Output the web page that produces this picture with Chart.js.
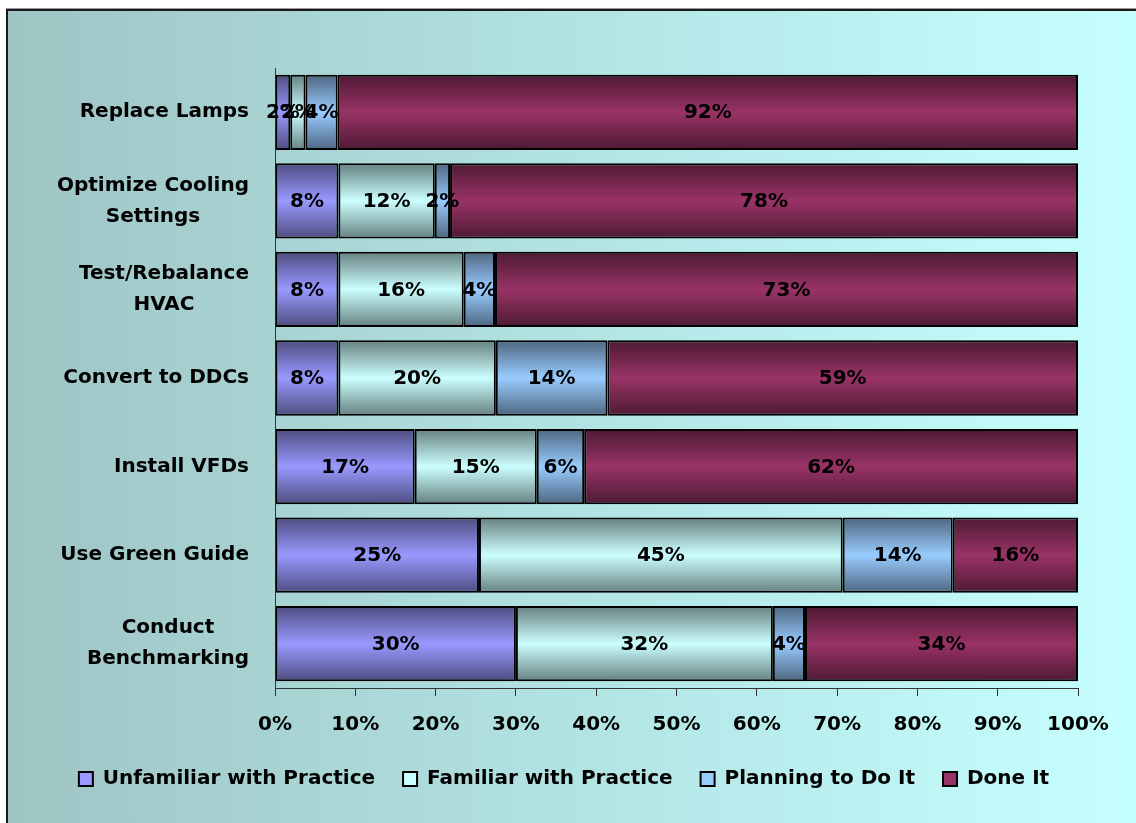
<!DOCTYPE html>
<html>
<head>
<meta charset="utf-8">
<title>Adoption of Energy Practices</title>
<script src="https://cdn.jsdelivr.net/npm/chart.js@4.4.1/dist/chart.umd.min.js"></script>
<style>
  html, body { margin: 0; padding: 0; background: #ffffff; }
  #wrap { width: 1136px; height: 823px; }
</style>
</head>
<body>
<div id="wrap"><canvas id="chart" width="1136" height="823"></canvas></div>
<script>
// Practices, top to bottom (multi-line names are split into lines)
const categories = [
  ['Replace Lamps'],
  ['Optimize Cooling', 'Settings'],
  ['Test/Rebalance', 'HVAC'],
  ['Convert to DDCs'],
  ['Install VFDs'],
  ['Use Green Guide'],
  ['Conduct', 'Benchmarking']
];
const seriesNames = ['Unfamiliar with Practice', 'Familiar with Practice', 'Planning to Do It', 'Done It'];

// Share of respondents (%) for each practice
const unfamiliar = [1.9, 7.9, 7.9, 7.9, 17.4, 25.4, 30.0];
const familiar   = [1.9, 12.0, 15.6, 19.6, 15.2, 45.3, 32.0];
const planning   = [4.0, 1.9, 3.9, 13.9, 5.9, 13.7, 4.0];
const doneIt     = [92.2, 78.2, 72.6, 58.6, 61.5, 15.6, 34.0];

const tickLabels = ['0%', '10%', '20%', '30%', '40%', '50%', '60%', '70%', '80%', '90%', '100%'];

// Fill colours: centre tone and edge tone of each bar's gradient
const lightTones = ['#9999FF', '#CCFFFF', '#99CCFF', '#993366'];
const darkTones  = ['#4D4D80', '#668080', '#4D6680', '#4D1A33'];

const FONT = '"DejaVu Sans", "Liberation Sans", Arial, sans-serif';
const BAR_PCT = 0.85;

function barFill(si) {
  return (ctx) => {
    const chart = ctx.chart;
    const y = chart.scales && chart.scales.y;
    if (!y || ctx.type !== 'data' || !isFinite(y.height)) return lightTones[si];
    const c = y.getPixelForValue(ctx.dataIndex);
    const half = (y.height / categories.length) * BAR_PCT / 2;
    const g = chart.ctx.createLinearGradient(0, c - half, 0, c + half);
    g.addColorStop(0, darkTones[si]);
    g.addColorStop(0.5, lightTones[si]);
    g.addColorStop(1, darkTones[si]);
    return g;
  };
}

// Frame and horizontal background wash
const backdrop = {
  id: 'backdrop',
  beforeDraw(chart) {
    const { ctx, width, height } = chart;
    ctx.save();
    ctx.fillStyle = '#ffffff';
    ctx.fillRect(0, 0, width, height);
    const g = ctx.createLinearGradient(7, 0, width, 0);
    g.addColorStop(0, '#9FC4C4');
    g.addColorStop(0.55, '#B4E6E6');
    g.addColorStop(1, '#C6FFFF');
    ctx.fillStyle = g;
    ctx.fillRect(7, 10, width - 7, height - 10);
    ctx.strokeStyle = '#1a1a1a';
    ctx.lineWidth = 2;
    ctx.beginPath();
    ctx.moveTo(7, height);
    ctx.lineTo(7, 10);
    ctx.lineTo(width, 10);
    ctx.stroke();
    ctx.strokeStyle = '#9a9a9a';
    ctx.lineWidth = 1;
    ctx.beginPath();
    ctx.moveTo(6, 8.5);
    ctx.lineTo(width, 8.5);
    ctx.stroke();
    ctx.restore();
  }
};

// Category names: lines centred on each other, block right-aligned to the axis
const categoryNames = {
  id: 'categoryNames',
  afterDraw(chart) {
    const { ctx } = chart;
    const y = chart.scales.y;
    ctx.save();
    ctx.font = 'bold 20px ' + FONT;
    ctx.fillStyle = '#000000';
    ctx.textAlign = 'center';
    ctx.textBaseline = 'middle';
    const rightEdge = y.right - 26;
    const lineH = 31;
    categories.forEach((lines, i) => {
      const cy = y.getPixelForValue(i);
      const w = Math.max(...lines.map(l => ctx.measureText(l).width));
      const cx = rightEdge - w / 2;
      lines.forEach((line, k) => {
        ctx.fillText(line, cx, cy + (k - (lines.length - 1) / 2) * lineH);
      });
    });
    ctx.restore();
  }
};

// Percentage written in the middle of every segment
const segmentLabels = {
  id: 'segmentLabels',
  afterDatasetsDraw(chart) {
    const { ctx } = chart;
    ctx.save();
    ctx.font = 'bold 20px ' + FONT;
    ctx.fillStyle = '#000000';
    ctx.textAlign = 'center';
    ctx.textBaseline = 'middle';
    chart.data.datasets.forEach((ds, di) => {
      const meta = chart.getDatasetMeta(di);
      meta.data.forEach((bar, i) => {
        const p = bar.getCenterPoint();
        ctx.fillText(Math.round(ds.data[i]) + '%', p.x, p.y + 1);
      });
    });
    ctx.restore();
  }
};

const seriesData = [unfamiliar, familiar, planning, doneIt];

new Chart(document.getElementById('chart'), {
  type: 'bar',
  data: {
    labels: categories,
    datasets: seriesData.map((values, si) => ({
      label: seriesNames[si],
      data: values,
      backgroundColor: barFill(si),
      borderColor: '#000000',
      borderWidth: 2,
      borderSkipped: false,
      barPercentage: BAR_PCT,
      categoryPercentage: 1.0
    }))
  },
  options: {
    indexAxis: 'y',
    responsive: false,
    animation: false,
    devicePixelRatio: 1,
    layout: { padding: { top: 68, left: 50, right: 58, bottom: 24 } },
    scales: {
      x: {
        type: 'linear',
        stacked: true,
        min: 0,
        max: 100,
        afterFit(scale) { scale.height = 53; },
        ticks: {
          stepSize: 10,
          padding: 17,
          color: '#000000',
          font: { family: FONT, size: 20, weight: 'bold' },
          callback: (v, i) => tickLabels[i]
        },
        grid: { display: true, drawOnChartArea: false, drawTicks: true, tickLength: 8, color: '#333333' },
        border: { display: true, color: '#333333', width: 1 }
      },
      y: {
        type: 'category',
        stacked: true,
        afterFit(scale) { scale.width = 225; },
        ticks: { display: false },
        grid: { display: false },
        border: { display: true, color: '#333333', width: 1 }
      }
    },
    plugins: {
      tooltip: { enabled: false },
      legend: {
        position: 'bottom',
        align: 'center',
        labels: {
          boxWidth: 14,
          boxHeight: 14,
          padding: 28,
          color: '#000000',
          font: { family: FONT, size: 20, weight: 'bold' },
          generateLabels(chart) {
            return chart.data.datasets.map((ds, i) => ({
              text: ds.label,
              fillStyle: lightTones[i],
              strokeStyle: '#000000',
              lineWidth: 2,
              hidden: false,
              datasetIndex: i,
              fontColor: '#000000'
            }));
          }
        }
      }
    }
  },
  plugins: [backdrop, segmentLabels, categoryNames]
});
</script>
</body>
</html>
